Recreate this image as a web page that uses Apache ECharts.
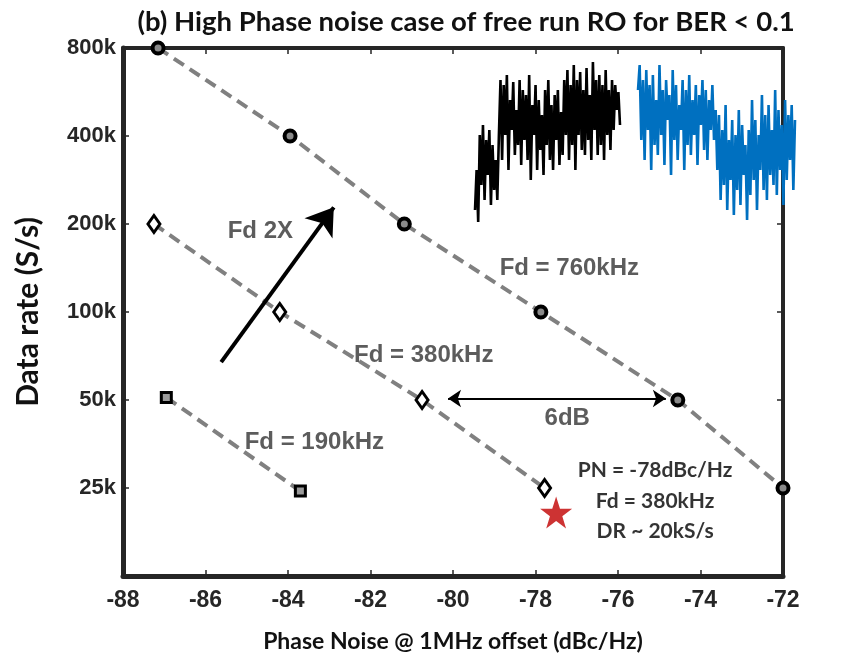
<!DOCTYPE html>
<html><head><meta charset="utf-8">
<script src="https://cdn.jsdelivr.net/npm/echarts@6/dist/echarts.min.js"></script>
<style>html,body{margin:0;padding:0;background:#fff}#c{width:841px;height:666px}</style>
</head><body><div id="c"></div>
<script>
// ---- data (values in kS/s and dBc/Hz) ----
const fd760X = [-87.15, -83.95, -81.18, -77.87, -74.55, -72.0];
const fd760Y = [800, 400, 200, 100, 50, 25];
const fd380X = [-87.25, -84.2, -80.75, -77.78];
const fd380Y = [200, 100, 50, 25];
const fd190X = [-86.95, -83.7];
const fd190Y = [51, 24.4];
const starX = [-77.5];
const starY = [20.6];
const yTickLabels = ['', '25k', '50k', '100k', '200k', '400k', '800k'];
const yBaseK = 12.5;
const xMin = -88, xMax = -72, xStep = 2;
// annotation texts, positions in data units
const noteText = ['Fd 2X', 'Fd = 760kHz', 'Fd = 380kHz', 'Fd = 190kHz', '6dB'];
const noteX = [-84.67, -77.18, -80.71, -83.36, -77.23];
const noteY = [188, 141, 71, 35.8, 43.4];
const pnText = ['PN = -78dBc/Hz', 'Fd = 380kHz', 'DR ~ 20kS/s'];
const pnX = [-75.1, -75.1, -75.1];
const pnY = [28.8, 22.6, 17.8];
const arrow2X = [[-85.62, -82.89]];
const arrow2Y = [[67.4, 228]];
const arrow6X = [[-80.12, -74.84]];
const arrow6Y = [[50.6, 50.6]];
// inset waveforms (amplitude, arbitrary units)
const blackWave = [20, 60, 8, 95, 45, 105, 30, 90, 55, 100, 25, 85, 40, 70, 30, 95,
  150, 70, 145, 95, 155, 60, 130, 100, 148, 75, 120, 85, 150, 65, 140, 90, 135, 70, 155, 50,
  125, 95, 145, 60, 130, 80, 115, 55, 140, 85, 150, 70, 125, 60, 135, 90, 140, 65, 118, 75,
  150, 95, 160, 70, 145, 85, 165, 60, 150, 95, 158, 80, 140, 75, 162, 90, 135, 70, 168, 100,
  150, 75, 155, 85, 145, 70, 160, 95, 140, 80, 150, 100, 145, 120, 138, 105];
const blueWave = [140, 165, 90, 150, 70, 160, 100, 145, 60, 155, 85, 130, 75, 165, 95, 140,
  65, 150, 110, 135, 55, 160, 90, 145, 70, 125, 100, 150, 60, 140, 85, 155, 75, 130, 95, 145,
  65, 135, 105, 150, 80, 140, 70, 130, 100, 145, 90, 120,
  60, 115, 30, 100, 45, 125, 20, 90, 50, 110, 15, 95, 40, 120, 25, 105, 55, 85, 10, 100,
  35, 130, 50, 110, 20, 95, 60, 135, 40, 115, 30, 125, 55, 100, 45, 140, 35, 120, 60, 105,
  25, 130, 50, 115, 70, 125, 40, 110];

const ly = v => Math.log2(v / yBaseK);
const pts = (xs, ys) => xs.map((x, i) => [x, ly(ys[i])]);

const frame = '#262626';
const dash = { color: '#808080', width: 4, type: [12, 7] };
const starPath = 'path://M50,0 L61.8,35.1 L98.9,35.1 L68.9,56.8 L80.3,91.9 L50,70.2 L19.7,91.9 L31.1,56.8 L1.1,35.1 L38.2,35.1 Z';

const chart = echarts.init(document.getElementById('c'), null, { renderer: 'canvas' });
chart.setOption({
  animation: false,
  title: {
    text: '(b) High Phase noise case of free run RO for BER < 0.1',
    left: 461, top: 3, textAlign: 'center',
    textStyle: { fontFamily: 'Lato', fontWeight: 'bold', fontSize: 27.5, color: '#111' }
  },
  grid: [
    { left: 123, right: 58, top: 48, bottom: 90 },
    { left: 475, top: 60, width: 145, height: 170 },
    { left: 638, top: 60, width: 157, height: 170 }
  ],
  xAxis: [
    { type: 'value', gridIndex: 0, min: xMin, max: xMax, interval: xStep, position: 'bottom',
      axisLine: { show: true, onZero: false, lineStyle: { color: frame, width: 5 } },
      axisTick: { inside: true, length: 6, lineStyle: { color: frame, width: 1.5 } },
      splitLine: { show: false },
      axisLabel: { margin: 13, color: '#262626', fontFamily: 'Liberation Sans', fontWeight: 'bold', fontSize: 23 },
      name: 'Phase Noise @ 1MHz offset (dBc/Hz)', nameLocation: 'middle', nameGap: 54,
      nameTextStyle: { fontFamily: 'Lato', fontWeight: 'bold', fontSize: 23, color: '#111' } },
    { type: 'value', gridIndex: 0, min: xMin, max: xMax, interval: xStep, position: 'top',
      axisLine: { show: true, onZero: false, lineStyle: { color: frame, width: 4 } },
      axisTick: { inside: true, length: 6, lineStyle: { color: frame, width: 1.5 } },
      axisLabel: { show: false }, splitLine: { show: false } },
    { type: 'value', gridIndex: 1, min: 0, max: blackWave.length - 1, show: false },
    { type: 'value', gridIndex: 2, min: 0, max: blueWave.length - 1, show: false }
  ],
  yAxis: [
    { type: 'value', gridIndex: 0, min: 0, max: yTickLabels.length - 1, interval: 1, position: 'left',
      axisLine: { show: true, onZero: false, lineStyle: { color: frame, width: 5 } },
      axisTick: { inside: true, length: 6, lineStyle: { color: frame, width: 1.5 } },
      splitLine: { show: false },
      axisLabel: { margin: 7, color: '#262626', fontFamily: 'Liberation Sans', fontWeight: 'bold', fontSize: 22,
        formatter: v => yTickLabels[Math.round(v)] || '' },
      name: 'Data rate (S/s)', nameLocation: 'middle', nameGap: 80,
      nameTextStyle: { fontFamily: 'Lato', fontWeight: 'bold', fontSize: 30, color: '#111' } },
    { type: 'value', gridIndex: 0, min: 0, max: yTickLabels.length - 1, interval: 1, position: 'right',
      axisLine: { show: true, onZero: false, lineStyle: { color: frame, width: 4 } },
      axisTick: { inside: true, length: 6, lineStyle: { color: frame, width: 1.5 } },
      axisLabel: { show: false }, splitLine: { show: false } },
    { type: 'value', gridIndex: 1, min: 0, max: 170, show: false },
    { type: 'value', gridIndex: 2, min: 0, max: 170, show: false }
  ],
  series: [
    { type: 'line', xAxisIndex: 0, yAxisIndex: 0, data: pts(fd760X, fd760Y), clip: false,
      lineStyle: dash, symbol: 'circle', symbolSize: 11,
      itemStyle: { color: '#8a8a8a', borderColor: '#000', borderWidth: 4 }, z: 3 },
    { type: 'line', xAxisIndex: 0, yAxisIndex: 0, data: pts(fd380X, fd380Y), clip: false,
      lineStyle: dash, symbol: 'diamond', symbolSize: [12, 17],
      itemStyle: { color: '#fff', borderColor: '#000', borderWidth: 3 }, z: 3 },
    { type: 'line', xAxisIndex: 0, yAxisIndex: 0, data: pts(fd190X, fd190Y), clip: false,
      lineStyle: dash, symbol: 'rect', symbolSize: 10,
      itemStyle: { color: '#9a9a9a', borderColor: '#000', borderWidth: 3 }, z: 3 },
    { type: 'scatter', xAxisIndex: 0, yAxisIndex: 0, data: pts(starX, starY),
      symbol: starPath, symbolSize: 32, itemStyle: { color: '#c00000' }, z: 4 },
    { type: 'lines', coordinateSystem: 'cartesian2d', xAxisIndex: 0, yAxisIndex: 0,
      data: arrow2X.map((xs, i) => ({ coords: pts(xs, arrow2Y[i]) })),
      symbol: ['none', 'arrow'], symbolSize: [20, 26],
      lineStyle: { color: '#000', width: 4, opacity: 1 }, z: 5 },
    { type: 'lines', coordinateSystem: 'cartesian2d', xAxisIndex: 0, yAxisIndex: 0,
      data: arrow6X.map((xs, i) => ({ coords: pts(xs, arrow6Y[i]) })),
      symbol: ['arrow', 'arrow'], symbolSize: 13,
      lineStyle: { color: '#000', width: 2, opacity: 1 }, z: 5 },
    { type: 'scatter', xAxisIndex: 0, yAxisIndex: 0, symbolSize: 0, z: 6,
      data: noteText.map((t, i) => ({ value: [noteX[i], ly(noteY[i])], name: t })),
      label: { show: true, position: 'inside', formatter: p => p.name,
        fontFamily: 'Liberation Sans', fontWeight: 'bold', fontSize: 24, color: '#333' } },
    { type: 'scatter', xAxisIndex: 0, yAxisIndex: 0, symbolSize: 0, z: 6,
      data: pnText.map((t, i) => ({ value: [pnX[i], ly(pnY[i])], name: t })),
      label: { show: true, position: 'inside', formatter: p => p.name,
        fontFamily: 'Lato', fontWeight: 'bold', fontSize: 21, color: '#000' } },
    { type: 'line', xAxisIndex: 2, yAxisIndex: 2, data: blackWave.map((v, i) => [i, v]),
      showSymbol: false, lineStyle: { color: '#000', width: 2.6 } },
    { type: 'line', xAxisIndex: 3, yAxisIndex: 3, data: blueWave.map((v, i) => [i, v]),
      showSymbol: false, lineStyle: { color: '#0070c0', width: 2.6 } }
  ]
});
</script></body></html>
